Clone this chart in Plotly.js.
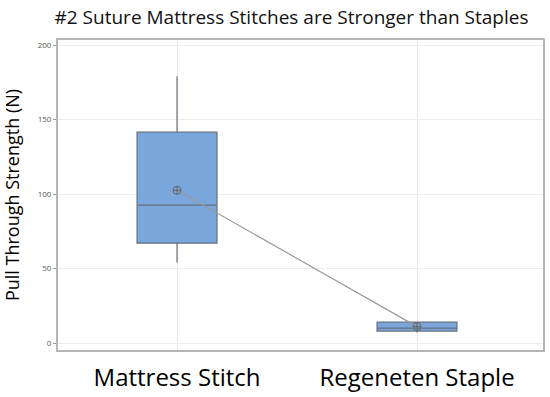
<!DOCTYPE html>
<html><head><meta charset="utf-8">
<script src="https://cdn.plot.ly/plotly-3.0.1.min.js"></script>
<style>html,body{margin:0;padding:0;background:#fff}#c{width:550px;height:397px}</style>
</head><body><div id="c"></div>
<script>
const categories = ["Mattress Stitch", "Regeneten Staple"];
const lowerWhisker = [54, 7];
const q1 = [67, 8];
const medians = [92.5, 10];
const q3 = [141.5, 14];
const upperWhisker = [179, 14];
const means = [102.5, 11];

const box = {
  type: 'box',
  x: categories,
  q1: q1, median: medians, q3: q3,
  lowerfence: lowerWhisker, upperfence: upperWhisker,
  fillcolor: '#79a6db',
  line: {color: '#66707e', width: 1.2},
  whiskerwidth: 0,
  width: 0.333,
  boxpoints: false,
  hoverinfo: 'skip',
  showlegend: false
};
const meanLine = {
  type: 'scatter', mode: 'lines+markers',
  x: categories, y: means,
  line: {color: '#9a9a9a', width: 1.2},
  marker: {symbol: 'circle-cross-open', size: 8, color: '#666', line: {width: 1}},
  showlegend: false, hoverinfo: 'skip'
};
const layout = {
  width: 550, height: 397,
  margin: {l: 58, r: 7, t: 40, b: 47},
  paper_bgcolor: '#fff', plot_bgcolor: '#fff',
  title: {text: '#2 Suture Mattress Stitches are Stronger than Staples',
    font: {family: 'Open Sans', size: 19, color: '#111'}, x: 0.53, xanchor: 'center', y: 0.957, yanchor: 'middle'},
  xaxis: {
    type: 'category', range: [-0.496, 1.525],
    showgrid: true, gridcolor: '#e6e6e6', gridwidth: 1,
    ticks: '', ticklabelstandoff: 5,
    tickfont: {family: 'Open Sans', size: 24, color: '#000'},
    showline: true, mirror: true, linecolor: '#b5b5b5', linewidth: 2,
    zeroline: false
  },
  yaxis: {
    range: [-4.7, 203.4],
    tickvals: [0, 50, 100, 150, 200],
    showgrid: true, gridcolor: '#ececec', gridwidth: 1,
    ticks: 'outside', ticklen: 3, tickcolor: '#999',
    tickfont: {family: 'Open Sans', size: 8, color: '#555'},
    showline: true, mirror: true, linecolor: '#b5b5b5', linewidth: 2,
    zeroline: false,
    title: {text: 'Pull Through Strength (N)', font: {family: 'Open Sans', size: 18, color: '#000'}, standoff: 16}
  }
};
Plotly.newPlot('c', [box, meanLine], layout, {displayModeBar: false, staticPlot: true});
</script></body></html>
